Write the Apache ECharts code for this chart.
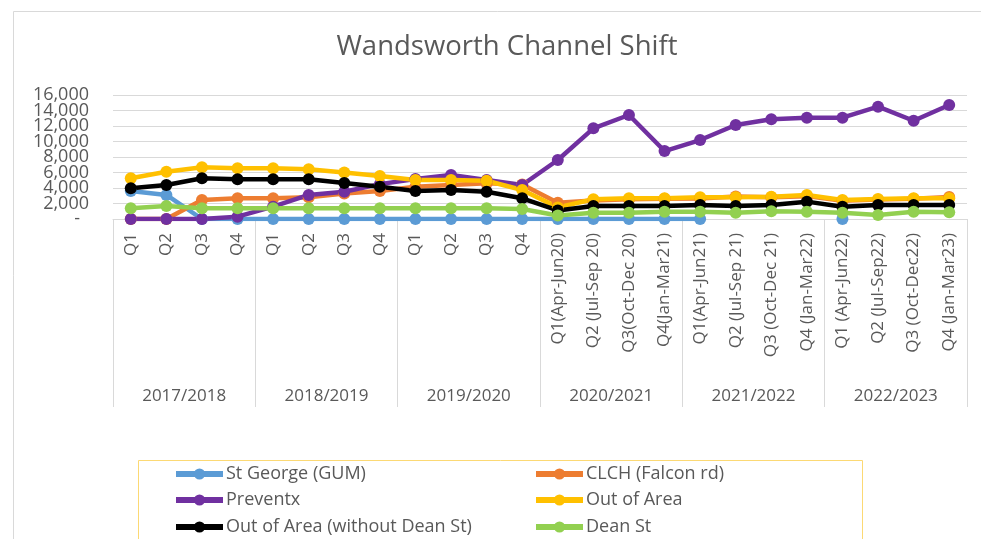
<!DOCTYPE html>
<html>
<head>
<meta charset="utf-8">
<script src="https://cdn.jsdelivr.net/npm/echarts@6/dist/echarts.min.js"></script>
<style>
html,body{margin:0;padding:0;background:#fff;}
#chart{width:981px;height:539px;}
</style>
</head>
<body>
<div id="chart"></div>
<script>
const categories = ['Q1','Q2','Q3','Q4','Q1','Q2','Q3','Q4','Q1','Q2','Q3','Q4',
  'Q1(Apr-Jun20)','Q2 (Jul-Sep 20)','Q3(Oct-Dec 20)','Q4(Jan-Mar21)',
  'Q1(Apr-Jun21)','Q2 (Jul-Sep 21)','Q3 (Oct-Dec 21)','Q4 (Jan-Mar22)',
  'Q1 (Apr-Jun22)','Q2 (Jul-Sep22)','Q3 (Oct-Dec22)','Q4 (Jan-Mar23)'];
const years = ['2017/2018','2018/2019','2019/2020','2020/2021','2021/2022','2022/2023'];
const yTicks = [0, 2000, 4000, 6000, 8000, 10000, 12000, 14000, 16000];

const stGeorge = [3600,3100,0,0,0,0,0,0,0,0,0,0,0,0,0,0,0,null,null,null,0,null,null,null];
const clch = [0,0,2450,2670,2670,2800,3300,3600,4170,4390,4600,4450,2100,2400,2550,2600,2650,2900,2800,2950,2350,2500,2600,2850];
const preventx = [0,0,0,300,1590,3100,3520,4500,5160,5680,5030,4390,7610,11700,13420,8770,10190,12130,12860,13070,13070,14490,12680,14710];
const outOfArea = [5250,6100,6670,6540,6540,6410,6000,5550,5030,5030,4940,3740,1500,2540,2670,2670,2800,2800,2880,3100,2450,2580,2670,2670];
const outNoDean = [3960,4390,5250,5120,5120,5120,4650,4170,3610,3740,3520,2670,1100,1680,1680,1680,1800,1680,1800,2240,1590,1800,1800,1800];
const deanSt = [1380,1680,1380,1380,1380,1380,1380,1380,1380,1380,1380,1290,450,820,820,940,940,820,1000,940,820,520,940,860];

const seriesNames = ['St George (GUM)','CLCH (Falcon rd)','Preventx','Out of Area','Out of Area (without Dean St)','Dean St'];
const seriesColors = ['#5b9bd5','#ed7d31','#7030a0','#ffc000','#000000','#92d050'];
const seriesData = [stGeorge, clch, preventx, outOfArea, outNoDean, deanSt];

const FONT = 'Open Sans';
const TXT = '#595959';

const legendCols = [173, 533];
const legendRows = [465, 491, 518];

function fmtY(v) { return v === 0 ? '{d|-}' : v.toLocaleString('en-US'); }

function makeY(parity, withGrid) {
  return {
    type: 'value', min: yTicks[0], max: yTicks[yTicks.length-1], interval: 2000,
    position: 'left', offset: 0,
    axisLine: {show: false}, axisTick: {show: false},
    splitLine: {show: withGrid, lineStyle: {color: '#d9d9d9', width: 1}},
    axisLabel: {
      margin: 24, fontFamily: FONT, fontSize: 18, color: TXT,
      showMinLabel: true, showMaxLabel: true, hideOverlap: false,
      formatter: function (v) { return (Math.round(v / 2000) % 2 === parity) ? fmtY(v) : ''; },
      rich: {d: {fontFamily: FONT, fontSize: 18, color: TXT, padding: [0, 9, 0, 0]}}
    }
  };
}

const chart = echarts.init(document.getElementById('chart'));
const option = {
  animation: false,
  backgroundColor: '#fff',
  title: {
    text: 'Wandsworth Channel Shift',
    left: 502, top: 28, textAlign: 'center',
    textStyle: {fontFamily: FONT, fontSize: 27.5, fontWeight: 'normal', color: TXT}
  },
  graphic: [
    {type:'rect', shape:{x:13.5, y:11.5, width:1000, height:600}, style:{fill:'none', stroke:'#d9d9d9', lineWidth:1}, silent:true, z:-10},
    {type:'rect', shape:{x:138.5, y:460.5, width:724, height:120}, style:{fill:'none', stroke:'#fcd974', lineWidth:1}, silent:true, z:-10}
  ],
  legend: seriesNames.map(function (name, i) {
    return {
      orient: 'horizontal', padding: 0,
      left: legendCols[i % 2], top: legendRows[Math.floor(i / 2)],
      itemWidth: 47, itemHeight: 14, itemGap: 0,
      data: [name],
      lineStyle: {width: 6},
      textStyle: {fontFamily: FONT, fontSize: 18, color: TXT, lineHeight: 18, padding: [0, 0, 0, -2]}
    };
  }),
  grid: {left: 113, right: 14, top: 95, bottom: 320, containLabel: false},
  xAxis: [
    {
      type: 'category', data: categories, boundaryGap: true,
      axisLine: {show: true, lineStyle: {color: '#d9d9d9', width: 1}},
      axisTick: {show: false},
      axisLabel: {interval: 0, rotate: 90, margin: 14, fontFamily: FONT, fontSize: 17, color: TXT}
    },
    {
      type: 'category', data: years, position: 'bottom', boundaryGap: true,
      axisLine: {show: false},
      axisTick: {show: true, interval: 0, length: 188, lineStyle: {color: '#d9d9d9', width: 1}},
      axisLabel: {interval: 0, margin: 169, fontFamily: FONT, fontSize: 17, color: TXT}
    }
  ],
  yAxis: [makeY(0, true), makeY(1, false)],
  series: seriesNames.map(function (name, i) {
    return {
      name: name, type: 'line', xAxisIndex: 0, yAxisIndex: 0, data: seriesData[i],
      color: seriesColors[i],
      symbol: 'circle', symbolSize: 12, showSymbol: true,
      connectNulls: false,
      lineStyle: {width: 4.5, color: seriesColors[i]},
      itemStyle: {color: seriesColors[i]}
    };
  })
};
chart.setOption(option);
</script>
</body>
</html>
